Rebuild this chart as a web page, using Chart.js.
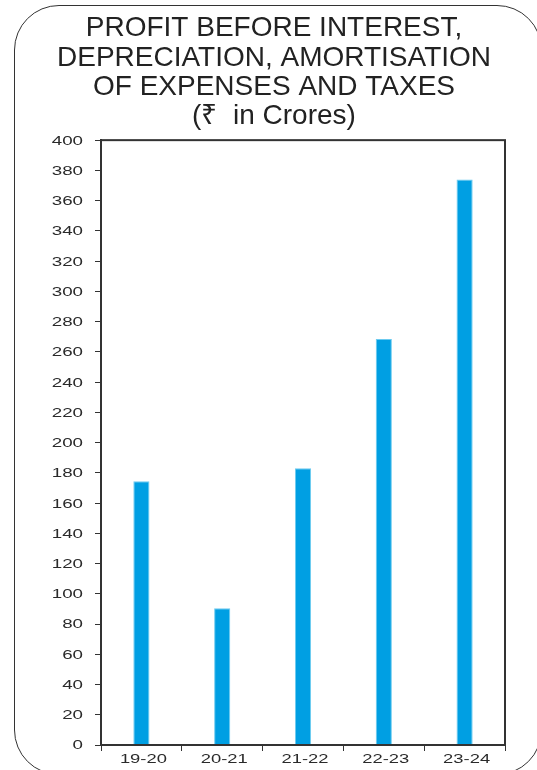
<!DOCTYPE html>
<html>
<head>
<meta charset="utf-8">
<script src="https://cdn.jsdelivr.net/npm/chart.js@4.4.0/dist/chart.umd.min.js"></script>
<style>
  html, body { margin: 0; padding: 0; background: #fff; overflow: hidden; }
  #wrap { position: relative; width: 537px; height: 770px; }
  #frame {
    position: absolute; left: 14px; top: 5px; width: 528px; height: 770px;
    border: 1.3px solid #333; border-radius: 45px; box-sizing: border-box;
  }
  canvas { position: absolute; left: 0; top: 0; }
</style>
</head>
<body>
<div id="wrap">
  <div id="frame"></div>
  <canvas id="myChart" width="537" height="770"></canvas>
</div>
<script>
const years = ['19-20', '20-21', '21-22', '22-23', '23-24'];
const pbidt = [174.5, 90.5, 183, 268.5, 374];
const titleLines = ['PROFIT BEFORE INTEREST,', 'DEPRECIATION, AMORTISATION', 'OF EXPENSES AND TAXES', '(₹  in Crores)'];

const FONT = 'Liberation Sans, Arial, sans-serif';

// box round the plot area + wide tick labels like the printed original
const boxPlugin = {
    id: 'box',
    afterDraw(chart) {
        const a = chart.chartArea;
        const ctx = chart.ctx;
        ctx.save();
        ctx.strokeStyle = '#333';
        ctx.lineWidth = 2;
        ctx.strokeRect(a.left, a.top, a.right - a.left, a.bottom - a.top);

        ctx.fillStyle = '#2a2a2a';
        ctx.font = '12.5px ' + FONT;
        ctx.textBaseline = 'middle';
        const ys = chart.scales.y;
        ys.ticks.forEach((t, i) => {
            const y = ys.getPixelForTick(i);
            ctx.save();
            ctx.translate(83, y + 1);
            ctx.scale(1.5, 1);
            ctx.textAlign = 'right';
            ctx.fillText(String(t.value), 0, 0);
            ctx.restore();
        });
        const xs = chart.scales.x;
        chart.data.labels.forEach((lab, i) => {
            const x = xs.getPixelForTick(i);
            ctx.save();
            ctx.translate(x + 2, 759.5);
            ctx.scale(1.47, 1);
            ctx.textAlign = 'center';
            ctx.fillText(lab, 0, 0);
            ctx.restore();
        });
        ctx.restore();
    }
};

function renderChart() {
    const ctx = document.getElementById('myChart').getContext('2d');
    new Chart(ctx, {
        type: 'bar',
        data: {
            labels: years,
            datasets: [{
                data: pbidt,
                backgroundColor: '#009FE3',
                borderColor: '#6ccbf0',
                borderWidth: 1,
                barPercentage: 0.2,
                categoryPercentage: 1
            }]
        },
        plugins: [boxPlugin],
        options: {
            responsive: false,
            animation: false,
            layout: { padding: { top: 14, right: 32, bottom: 0, left: 43 } },
            plugins: {
                legend: { display: false },
                tooltip: { enabled: false },
                title: {
                    display: true,
                    text: titleLines,
                    color: '#222',
                    font: { family: FONT, size: 28, weight: 'normal', lineHeight: 1.046 },
                    padding: { top: 0, bottom: 9 }
                }
            },
            scales: {
                x: {
                    grid: { display: true, drawOnChartArea: false, offset: true, color: '#333', tickLength: 6 },
                    border: { color: '#333', width: 2 },
                    ticks: { color: 'rgba(0,0,0,0)', font: { family: FONT, size: 12.5 }, padding: 3 },
                    afterFit(scale) { scale.height = 25; }
                },
                y: {
                    min: 0,
                    max: 400,
                    ticks: { stepSize: 20, color: 'rgba(0,0,0,0)', font: { family: FONT, size: 12.5 }, padding: 10 },
                    grid: { drawOnChartArea: false, color: '#333', tickLength: 6 },
                    border: { color: '#333', width: 2 },
                    afterFit(scale) { scale.width = 58; }
                }
            }
        }
    });
}

window.onload = renderChart;
</script>
</body>
</html>
